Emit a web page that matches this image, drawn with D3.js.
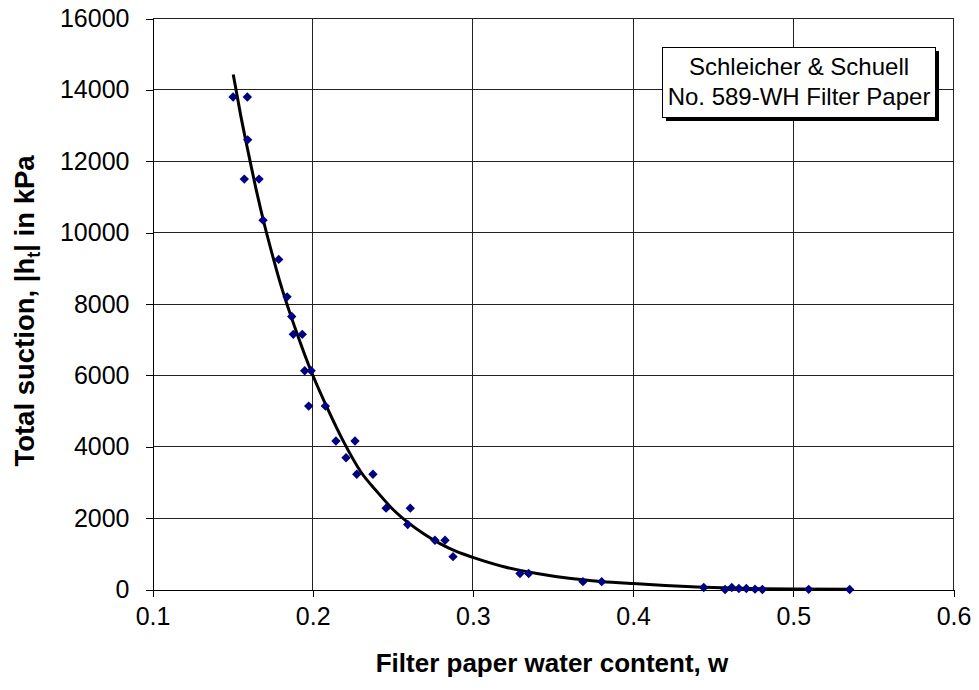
<!DOCTYPE html>
<html>
<head>
<meta charset="utf-8">
<script src="https://cdn.jsdelivr.net/npm/d3@7"></script>
<style>
  html, body { margin: 0; padding: 0; background: #fff; }
  svg { display: block; font-family: "Liberation Sans", Arial, sans-serif; }
</style>
</head>
<body>
<svg id="chart" width="979" height="690"></svg>
<script>
// Filter paper calibration measurements: water content vs total suction (kPa)
const waterContent = [
  0.1503, 0.1592, 0.1594, 0.1573, 0.1665, 0.1690, 0.1788, 0.1840, 0.1869, 0.1879,
  0.1935, 0.1950, 0.1990, 0.1975, 0.2079, 0.2145, 0.2264, 0.2208, 0.2275, 0.2376,
  0.2458, 0.2609, 0.2593, 0.2763, 0.2826, 0.2876, 0.3294, 0.3348, 0.3687, 0.3804,
  0.4441, 0.4574, 0.4616, 0.4660, 0.4707, 0.4761, 0.4807, 0.5096, 0.5352
];
const suction = [
  13800, 13800, 12600, 11500, 11500, 10350, 9250, 8200, 7650, 7150,
  7150, 6130, 6130, 5140, 5140, 4160, 4160, 3690, 3230, 3230,
  2280, 2280, 1820, 1380, 1380, 920, 450, 450, 220, 220,
  56, 0, 56, 28, 28, 10, 0, 5, 0
];

// Calibration curve (fitted trend), sampled along its length
const curveWater = [
  0.1504, 0.155, 0.160, 0.165, 0.170, 0.175, 0.180, 0.185, 0.190, 0.195,
  0.200, 0.210, 0.220, 0.230, 0.240, 0.250, 0.260, 0.270, 0.280, 0.290,
  0.300, 0.320, 0.340, 0.360, 0.380, 0.400, 0.420, 0.440, 0.460, 0.480,
  0.500, 0.535
];
const curveSuction = [
  14430, 13300, 12200, 11150, 10200, 9350, 8550, 7850, 7200, 6580,
  6010, 5000, 4080, 3300, 2750, 2250, 1860, 1540, 1270, 1060,
  900, 630, 450, 315, 225, 165, 115, 70, 40, 22,
  12, 4
];

const xTicks = [0.1, 0.2, 0.3, 0.4, 0.5, 0.6];
const yTicks = [0, 2000, 4000, 6000, 8000, 10000, 12000, 14000, 16000];
const legendLines = ["Schleicher & Schuell", "No. 589-WH Filter Paper"];

const svg = d3.select("#chart");

const x = d3.scaleLinear().domain([0.1, 0.6]).range([152.5, 953.5]);
const y = d3.scaleLinear().domain([0, 16000]).range([589.5, 18.5]);

// Gridlines
const grid = svg.append("g").attr("stroke", "#222").attr("stroke-width", 1).attr("shape-rendering", "crispEdges");
grid.selectAll(".gx").data(xTicks.slice(1)).join("line")
  .attr("x1", d => x(d)).attr("x2", d => x(d))
  .attr("y1", y(16000)).attr("y2", y(0));
grid.selectAll(".gy").data(yTicks.slice(1)).join("line")
  .attr("x1", x(0.1)).attr("x2", x(0.6))
  .attr("y1", d => y(d)).attr("y2", d => y(d));

// Axes
const xAxis = d3.axisBottom(x).tickValues(xTicks).tickFormat(d3.format(".1f"))
  .tickSizeInner(7).tickSizeOuter(0).tickPadding(11);
const yAxis = d3.axisLeft(y).tickValues(yTicks).tickFormat(d3.format("d"))
  .tickSizeInner(7).tickSizeOuter(0).tickPadding(16);

const gx = svg.append("g").attr("transform", `translate(0,${y(0)})`).call(xAxis);
const gy = svg.append("g").attr("transform", `translate(${x(0.1)},0)`).call(yAxis);
[gx, gy].forEach(g => {
  g.selectAll("path, line").attr("stroke", "#000").attr("shape-rendering", "crispEdges");
  g.selectAll("text").attr("fill", "#000")
    .style("font-family", '"Liberation Sans", Arial, sans-serif')
    .style("font-size", "25px");
});

// Fitted curve
const line = d3.line().x((d, i) => x(curveWater[i])).y((d, i) => y(curveSuction[i]))
  .curve(d3.curveMonotoneX);
svg.append("path").datum(curveWater)
  .attr("d", line)
  .attr("fill", "none").attr("stroke", "#000").attr("stroke-width", 3)
  .attr("stroke-linejoin", "round");

// Measured points (diamond markers)
const diamond = d3.symbol(d3.symbolSquare, 44)();
svg.append("g").selectAll("path").data(waterContent).join("path")
  .attr("d", diamond)
  .attr("transform", (d, i) => `translate(${x(d)},${y(suction[i])}) rotate(45)`)
  .attr("fill", "#000080");

// Axis titles
svg.append("text")
  .attr("x", 552).attr("y", 672)
  .attr("text-anchor", "middle")
  .style("font-size", "26px").style("font-weight", "bold")
  .text("Filter paper water content, w");

const yTitle = svg.append("text")
  .attr("transform", "translate(34,311) rotate(-90)")
  .attr("text-anchor", "middle")
  .style("font-size", "27.5px").style("font-weight", "bold");
yTitle.append("tspan").text("Total suction, |h");
yTitle.append("tspan").attr("dy", 6).style("font-size", "18px").text("t");
yTitle.append("tspan").attr("dy", -6).text("| in kPa");

// Legend box with drop shadow
const lg = svg.append("g");
lg.append("rect").attr("x", 666).attr("y", 51).attr("width", 273).attr("height", 70).attr("fill", "#000");
lg.append("rect").attr("x", 662.5).attr("y", 47.5).attr("width", 273).attr("height", 70)
  .attr("fill", "#fff").attr("stroke", "#000").attr("stroke-width", 1);
lg.selectAll("text").data(legendLines).join("text")
  .attr("x", 799).attr("y", (d, i) => 75 + i * 30)
  .attr("text-anchor", "middle")
  .style("font-size", "24px")
  .text(d => d);
</script>
</body>
</html>
